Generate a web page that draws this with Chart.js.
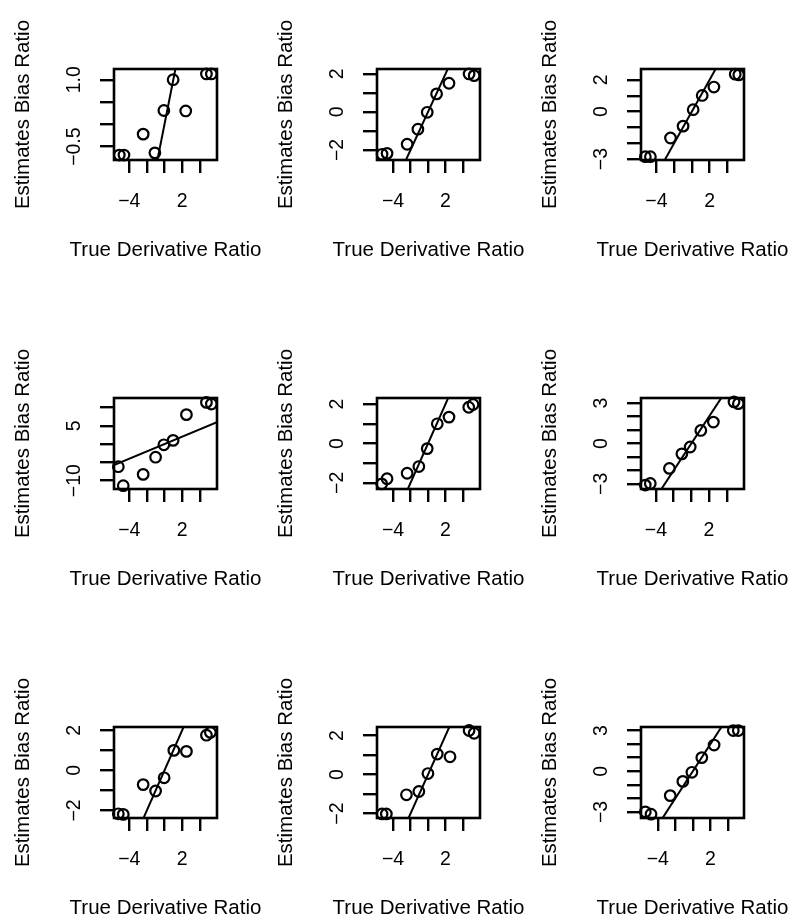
<!DOCTYPE html>
<html>
<head>
<meta charset="utf-8">
<script src="https://cdn.jsdelivr.net/npm/chart.js@4.4.0/dist/chart.umd.min.js"></script>
<style>
    html, body { margin: 0; padding: 0; background: #fff; }
    body { width: 801px; height: 919px; position: relative; overflow: hidden; }
    canvas { position: absolute; }
</style>
</head>
<body>
<script>
// Values (true derivative ratio vs estimated bias ratio)
const p1True = [-5.13, -4.60, -2.42, -1.09, -0.07, 0.98, 2.41, 4.76, 5.32];
const p1Est  = [-0.69, -0.69, -0.22, -0.64, 0.31, 1.00, 0.30, 1.13, 1.13];
const p2True = [-5.26, -4.69, -2.39, -1.16, -0.09, 0.98, 2.40, 4.70, 5.28];
const p2Est  = [-2.23, -2.18, -1.70, -0.91, -0.02, 0.95, 1.51, 2.00, 1.91];
const p3True = [-5.25, -4.68, -2.41, -0.99, 0.15, 1.17, 2.49, 4.90, 5.30];
const p3Est  = [-2.85, -2.85, -1.67, -0.92, 0.12, 1.02, 1.55, 2.36, 2.32];
const p4True = [-5.24, -4.68, -2.42, -1.01, -0.07, 0.98, 2.49, 4.76, 5.32];
const p4Est  = [-6.2, -11.4, -8.3, -3.6, -0.2, 1.0, 8.05, 11.4, 10.95];
const p5True = [-5.30, -4.69, -2.39, -1.05, -0.09, 1.06, 2.40, 4.66, 5.15];
const p5Est  = [-2.05, -1.79, -1.51, -1.17, -0.26, 1.00, 1.34, 1.84, 1.98];
const p6True = [-5.21, -4.64, -2.48, -1.07, -0.13, 1.07, 2.49, 4.82, 5.31];
const p6Est  = [-3.09, -2.97, -1.85, -0.77, -0.26, 0.97, 1.59, 3.09, 2.96];
const p7True = [-5.24, -4.68, -2.42, -1.01, -0.04, 1.06, 2.49, 4.76, 5.21];
const p7Est  = [-2.17, -2.20, -0.71, -1.03, -0.37, 1.00, 0.95, 1.76, 1.90];
const p8True = [-5.26, -4.77, -2.47, -1.05, -0.01, 1.06, 2.52, 4.70, 5.28];
const p8Est  = [-2.02, -2.02, -1.04, -0.87, 0.05, 1.05, 0.91, 2.26, 2.12];
const p9True = [-5.42, -4.77, -2.58, -1.14, -0.11, 1.02, 2.42, 4.61, 5.18];
const p9Est  = [-3.00, -3.17, -1.80, -0.75, -0.08, 1.00, 1.93, 3.00, 3.00];

// Reference line drawn in every panel (y = x)
const refSlope = 1;
const refIntercept = 0;

// Tick marks and the labels R kept
const xTicks = [-4, -2, 0, 2, 4];
const xTickLabels = ['-4', '2'];
const p1YTicks = [-0.5, 0, 0.5, 1];      const p1YLabels = ['-0.5', '1.0'];
const p2YTicks = [-2, -1, 0, 1, 2];      const p2YLabels = ['-2', '0', '2'];
const p3YTicks = [-3, -2, -1, 0, 1, 2];  const p3YLabels = ['-3', '0', '2'];
const p4YTicks = [-10, -5, 0, 5, 10];    const p4YLabels = ['-10', '5'];
const p5YTicks = [-2, -1, 0, 1, 2];      const p5YLabels = ['-2', '0', '2'];
const p6YTicks = [-3, -2, -1, 0, 1, 2, 3]; const p6YLabels = ['-3', '0', '3'];
const p7YTicks = [-2, -1, 0, 1, 2];      const p7YLabels = ['-2', '0', '2'];
const p8YTicks = [-2, -1, 0, 1, 2];      const p8YLabels = ['-2', '0', '2'];
const p9YTicks = [-3, -2, -1, 0, 1, 2, 3]; const p9YLabels = ['-3', '0', '3'];

const xTitle = 'True Derivative Ratio';
const yTitle = 'Estimates Bias Ratio';

const panels = [
    { x: p1True, y: p1Est, xLim: [-5.73, 5.96], yLim: [-0.80, 1.24], yTicks: p1YTicks, yLabels: p1YLabels },
    { x: p2True, y: p2Est, xLim: [-5.84, 5.95], yLim: [-2.53, 2.26], yTicks: p2YTicks, yLabels: p2YLabels },
    { x: p3True, y: p3Est, xLim: [-5.74, 5.89], yLim: [-3.06, 2.69], yTicks: p3YTicks, yLabels: p3YLabels },
    { x: p4True, y: p4Est, xLim: [-5.73, 5.96], yLim: [-12.3, 12.6], yTicks: p4YTicks, yLabels: p4YLabels },
    { x: p5True, y: p5Est, xLim: [-5.84, 5.95], yLim: [-2.31, 2.31], yTicks: p5YTicks, yLabels: p5YLabels },
    { x: p6True, y: p6Est, xLim: [-5.69, 5.95], yLim: [-3.38, 3.38], yTicks: p6YTicks, yLabels: p6YLabels },
    { x: p7True, y: p7Est, xLim: [-5.73, 5.96], yLim: [-2.38, 2.17], yTicks: p7YTicks, yLabels: p7YLabels },
    { x: p8True, y: p8Est, xLim: [-5.84, 5.95], yLim: [-2.23, 2.44], yTicks: p8YTicks, yLabels: p8YLabels },
    { x: p9True, y: p9Est, xLim: [-5.91, 5.83], yLim: [-3.45, 3.26], yTicks: p9YTicks, yLabels: p9YLabels }
];

// Layout of the 3x3 grid
const colLeft = [0, 263, 527];
const rowTop = [0, 329, 658];
const canvasW = 274, canvasH = 275;
const boxLeft = 114, boxTop = 69, boxW = 103, boxH = 91;
const xAxisH = 20;

const fontFamily = '"Liberation Sans", Arial, Helvetica, sans-serif';
const tickFont = '19.5px ' + fontFamily;
const titleFont = '20.5px ' + fontFamily;
const ink = '#000';

function minus(s) {
    return s.replace('-', '\u2212');
}

// Draws the R-style box, rotated y labels, x labels and axis titles
function rStylePlugin(p) {
    return {
        id: 'rStyle',
        afterDraw(chart) {
            const { ctx, chartArea: a, scales } = chart;
            ctx.save();
            ctx.strokeStyle = ink;
            ctx.lineWidth = 2.6;
            ctx.strokeRect(a.left, a.top, a.right - a.left, a.bottom - a.top);

            ctx.fillStyle = ink;
            ctx.textAlign = 'center';
            ctx.textBaseline = 'middle';
            ctx.font = tickFont;
            xTickLabels.forEach(s => {
                ctx.fillText(minus(s), scales.x.getPixelForValue(parseFloat(s)), a.bottom + 42);
            });
            p.yLabels.forEach(s => {
                const y = scales.y.getPixelForValue(parseFloat(s));
                ctx.save();
                ctx.translate(a.left - 39, y);
                ctx.rotate(-Math.PI / 2);
                ctx.fillText(minus(s), 0, 0);
                ctx.restore();
            });

            ctx.font = titleFont;
            ctx.fillText(xTitle, (a.left + a.right) / 2, a.bottom + 90);
            ctx.save();
            ctx.translate(a.left - 91, (a.top + a.bottom) / 2);
            ctx.rotate(-Math.PI / 2);
            ctx.fillText(yTitle, 0, 0);
            ctx.restore();
            ctx.restore();
        }
    };
}

panels.forEach((p, i) => {
    const canvas = document.createElement('canvas');
    canvas.width = canvasW;
    canvas.height = canvasH;
    canvas.style.left = colLeft[i % 3] + 'px';
    canvas.style.top = rowTop[Math.floor(i / 3)] + 'px';
    document.body.appendChild(canvas);

    const points = p.x.map((v, k) => ({ x: v, y: p.y[k] }));
    const refLine = p.xLim.map(v => ({ x: v, y: refIntercept + refSlope * v }));

    new Chart(canvas, {
        type: 'scatter',
        data: {
            datasets: [
                {
                    data: points,
                    pointStyle: 'circle',
                    pointRadius: 5.3,
                    pointBorderWidth: 2.2,
                    pointBorderColor: ink,
                    pointBackgroundColor: 'rgba(0,0,0,0)',
                    clip: false
                },
                {
                    data: refLine,
                    showLine: true,
                    pointRadius: 0,
                    borderColor: ink,
                    borderWidth: 2
                }
            ]
        },
        options: {
            responsive: false,
            animation: false,
            events: [],
            layout: {
                padding: {
                    left: 0,
                    top: boxTop,
                    right: canvasW - boxLeft - boxW,
                    bottom: canvasH - boxTop - boxH - xAxisH
                }
            },
            plugins: {
                legend: { display: false },
                tooltip: { enabled: false }
            },
            scales: {
                x: {
                    type: 'linear',
                    min: p.xLim[0],
                    max: p.xLim[1],
                    afterBuildTicks: s => { s.ticks = xTicks.map(v => ({ value: v })); },
                    afterFit: s => { s.height = xAxisH; },
                    ticks: { display: false },
                    grid: { drawOnChartArea: false, drawTicks: true, tickLength: 13, color: ink, lineWidth: 2.4 },
                    border: { display: false }
                },
                y: {
                    type: 'linear',
                    min: p.yLim[0],
                    max: p.yLim[1],
                    afterBuildTicks: s => { s.ticks = p.yTicks.map(v => ({ value: v })); },
                    afterFit: s => { s.width = boxLeft; },
                    ticks: { display: false },
                    grid: { drawOnChartArea: false, drawTicks: true, tickLength: 14, color: ink, lineWidth: 2.4 },
                    border: { display: false }
                }
            }
        },
        plugins: [rStylePlugin(p)]
    });
});
</script>
</body>
</html>
